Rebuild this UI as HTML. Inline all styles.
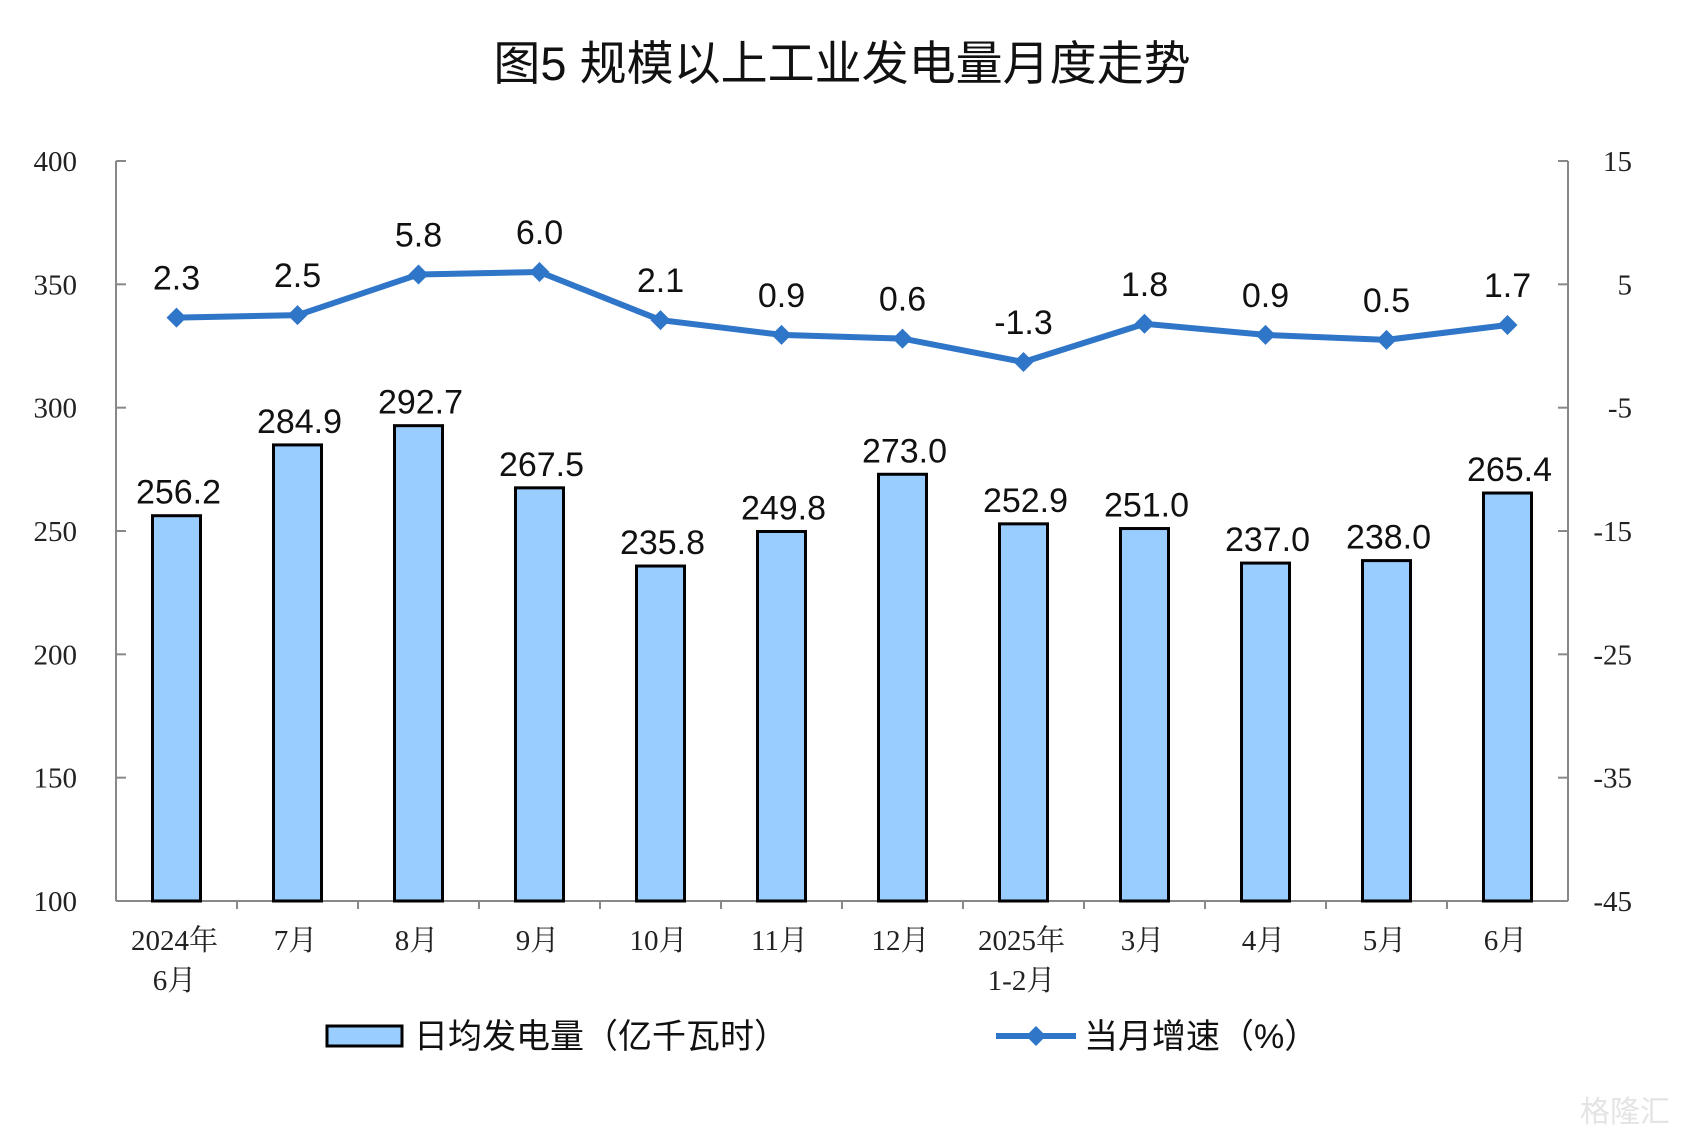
<!DOCTYPE html>
<html><head><meta charset="utf-8"><style>
body{margin:0;background:#fff;}
svg{display:block;}
</style></head><body>
<svg id="c" width="1683" height="1134" xmlns="http://www.w3.org/2000/svg">
<text x="842" y="80" text-anchor="middle" font-family="'Liberation Sans','Noto Sans CJK SC',sans-serif" font-size="47" fill="#111">图5  规模以上工业发电量月度走势</text>
<g id="g"></g>
</svg>
<script>
const categories=["2024年|6月","7月","8月","9月","10月","11月","12月","2025年|1-2月","3月","4月","5月","6月"];
const barValues=[256.2,284.9,292.7,267.5,235.8,249.8,273.0,252.9,251.0,237.0,238.0,265.4];
const lineValues=[2.3,2.5,5.8,6.0,2.1,0.9,0.6,-1.3,1.8,0.9,0.5,1.7];
const leftTicks=[100,150,200,250,300,350,400];
const rightTicks=[-45,-35,-25,-15,-5,5,15];
const NS="http://www.w3.org/2000/svg";
const g=document.getElementById('g');
const L=116,R=1568,T=161,B=901;
const band=(R-L)/categories.length;
const yL=v=>B-(v-100)/300*(B-T);
const yR=v=>B-(v+45)/60*(B-T);
const xC=i=>L+band*(i+0.5);
function el(tag,attrs,parent){const e=document.createElementNS(NS,tag);for(const k in attrs)e.setAttribute(k,attrs[k]);(parent||g).appendChild(e);return e;}
const serif="'Liberation Serif','Noto Serif CJK SC',serif";
const sans="'Liberation Sans','Noto Sans CJK SC',sans-serif";
let a=el('line',{x1:L,y1:T,x2:L,y2:B,stroke:'#888','stroke-width':2});

a=el('line',{x1:R,y1:T,x2:R,y2:B,stroke:'#888','stroke-width':2});

a=el('line',{x1:L,y1:B,x2:R,y2:B,stroke:'#888','stroke-width':2});

leftTicks.forEach(v=>{const y=yL(v);
 el('line',{x1:L,y1:y,x2:L+10,y2:y,stroke:'#888','stroke-width':2});
 const t=el('text',{x:77,y:y+10,'text-anchor':'end','font-family':serif,'font-size':29,fill:'#222'});t.textContent=v;
 });
rightTicks.forEach(v=>{const y=yR(v);
 el('line',{x1:R-10,y1:y,x2:R,y2:y,stroke:'#888','stroke-width':2});
 const t=el('text',{x:1632,y:y+10,'text-anchor':'end','font-family':serif,'font-size':29,fill:'#222'});t.textContent=v;
 });
for(let i=1;i<categories.length;i++){el('line',{x1:L+band*i,y1:B,x2:L+band*i,y2:B+8,stroke:'#888','stroke-width':2});}
barValues.forEach((v,i)=>{const x=xC(i),y=yL(v);
 const r=el('rect',{x:x-24,y:y,width:48,height:B-y,fill:'#99ccff',stroke:'#000','stroke-width':3});
 
 const t=el('text',{x:x+2,y:y-12,'text-anchor':'middle','font-family':sans,'font-size':34,fill:'#111'});t.textContent=v.toFixed(1);
 });
categories.forEach((c,i)=>{const parts=c.split('|');parts.forEach((p,j)=>{
 const t=el('text',{x:xC(i)-2,y:950+j*40,'text-anchor':'middle','font-family':serif,'font-size':29,fill:'#222'});t.textContent=p;
 });});
const pts=lineValues.map((v,i)=>xC(i)+','+yR(v)).join(' ');
const pl=el('polyline',{points:pts,fill:'none',stroke:'#2f75c8','stroke-width':6});

lineValues.forEach((v,i)=>{const x=xC(i),y=yR(v);
 const d=el('polygon',{points:`${x-10},${y} ${x},${y-10} ${x+10},${y} ${x},${y+10}`,fill:'#2f75c8'});
 
 const t=el('text',{x:x,y:y-28,'text-anchor':'middle','font-family':sans,'font-size':34,fill:'#111'});t.textContent=v.toFixed(1);
 });
</script>
<svg style="position:absolute;left:0;top:0" width="1683" height="1134">
<g>
<rect x="327" y="1026" width="75" height="20" fill="#99ccff" stroke="#000" stroke-width="3"/>
<text x="414" y="1048" font-family="'Liberation Sans','Noto Sans CJK SC',sans-serif" font-size="34" fill="#111">日均发电量（亿千瓦时）</text>
<line x1="996" y1="1036" x2="1076" y2="1036" stroke="#2f75c8" stroke-width="6"/>
<polygon points="1026,1036 1036,1026 1046,1036 1036,1046" fill="#2f75c8"/>
<text x="1084" y="1048" font-family="'Liberation Sans','Noto Sans CJK SC',sans-serif" font-size="34" fill="#111">当月增速（%）</text>
</g>
<text x="1670" y="1122" text-anchor="end" font-family="'Liberation Sans','Noto Sans CJK SC',sans-serif" font-size="30" fill="#e4e4e4">格隆汇</text>
</svg>
</body></html>
